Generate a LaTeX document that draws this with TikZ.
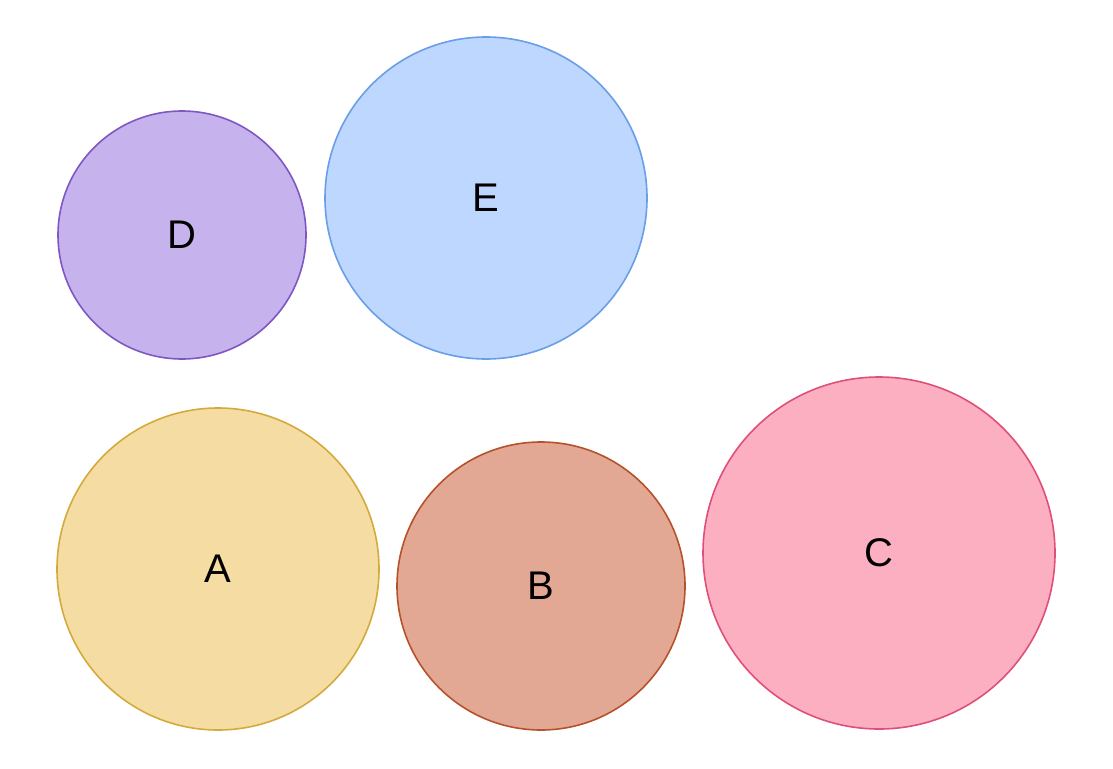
\documentclass[tikz,border=0pt]{standalone}
\usepackage{fontspec}
\setmainfont{Liberation Sans}
\usepackage{xcolor}
\usepackage{tikz}

\definecolor{dfill}{HTML}{C6B2EC}
\definecolor{ddraw}{HTML}{7E57C2}
\definecolor{efill}{HTML}{BDD7FE}
\definecolor{edraw}{HTML}{6A9EE6}
\definecolor{afill}{HTML}{F5DCA3}
\definecolor{adraw}{HTML}{D4AA3C}
\definecolor{bfill}{HTML}{E3A893}
\definecolor{bdraw}{HTML}{B5522B}
\definecolor{cfill}{HTML}{FDAFC2}
\definecolor{cdraw}{HTML}{DE5079}

\tikzset{
  blob/.style={circle, draw, line width=1.6pt, inner sep=0pt,
    font=\fontsize{40}{40}\selectfont}
}

\begin{document}
\begin{tikzpicture}[x=1pt,y=-1pt]
\useasboundingbox (0,0) rectangle (1113,768);
\node[blob, fill=dfill, draw=ddraw, minimum size=248pt] (D) at (182,235) {D};
\node[blob, fill=efill, draw=edraw, minimum size=322pt] (E) at (486,198) {E};
\node[blob, fill=afill, draw=adraw, minimum size=322pt] (A) at (218,569) {A};
\node[blob, fill=bfill, draw=bdraw, minimum size=288pt] (B) at (541,586) {B};
\node[blob, fill=cfill, draw=cdraw, minimum size=352pt] (C) at (879,553) {C};
\end{tikzpicture}
\end{document}
